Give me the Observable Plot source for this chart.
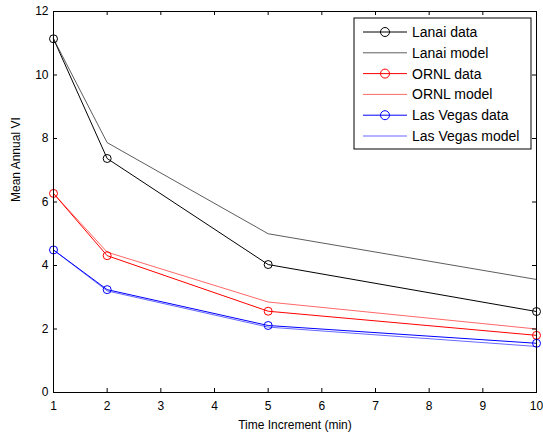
<!DOCTYPE html>
<html>
<head>
<meta charset="utf-8">
<script src="https://cdn.jsdelivr.net/npm/d3@7"></script>
<script src="https://cdn.jsdelivr.net/npm/@observablehq/plot@0.6"></script>
<style>
  html, body { margin: 0; padding: 0; background: #fff; }
  #chart { position: relative; width: 543px; height: 435px; }
  svg { font-family: "Liberation Sans", Arial, sans-serif; }
</style>
</head>
<body>
<div id="chart"></div>
<script>
const timeIncrements = [1, 2, 5, 10];
const lanaiData   = [11.14, 7.37, 4.03, 2.55];
const lanaiModel  = [11.14, 7.87, 5.00, 3.56];
const ornlData    = [6.27, 4.31, 2.56, 1.80];
const ornlModel   = [6.27, 4.42, 2.85, 2.00];
const vegasData   = [4.49, 3.24, 2.11, 1.55];
const vegasModel  = [4.49, 3.20, 2.06, 1.45];
const xTicks = [1, 2, 3, 4, 5, 6, 7, 8, 9, 10];
const yTicks = [0, 2, 4, 6, 8, 10, 12];

const seriesDefs = [
  {name: "Lanai data", values: lanaiData, color: "#000000", width: 1, marker: true},
  {name: "Lanai model", values: lanaiModel, color: "#333333", width: 0.8, marker: false},
  {name: "ORNL data", values: ornlData, color: "#ff0000", width: 1, marker: true},
  {name: "ORNL model", values: ornlModel, color: "#ff0000", width: 0.6, marker: false},
  {name: "Las Vegas data", values: vegasData, color: "#0000ff", width: 1, marker: true},
  {name: "Las Vegas model", values: vegasModel, color: "#0000ff", width: 0.6, marker: false}
];

const rows = [];
seriesDefs.forEach(s => s.values.forEach((v, i) => rows.push({series: s.name, x: timeIncrements[i], y: v})));

const marks = [];
for (const s of seriesDefs) {
  const d = rows.filter(r => r.series === s.name);
  marks.push(Plot.line(d, {x: "x", y: "y", stroke: s.color, strokeWidth: s.width}));
}
for (const s of seriesDefs) {
  if (!s.marker) continue;
  const d = rows.filter(r => r.series === s.name);
  marks.push(Plot.dot(d, {x: "x", y: "y", r: 4, stroke: s.color, fill: "none", strokeWidth: 1}));
}

const W = 543, H = 435, mL = 53, mR = 7, mT = 11, mB = 43;
const pw = W - mL - mR, ph = H - mT - mB;
const tick = 4;
const plot = Plot.plot({
  width: W,
  height: H,
  marginLeft: mL,
  marginRight: mR,
  marginTop: mT,
  marginBottom: mB,
  style: {fontFamily: "'Liberation Sans', Arial, sans-serif", fontSize: "12px", background: "#fff", overflow: "visible"},
  x: {domain: [1, 10]},
  y: {domain: [0, 12]},
  marks: [
    ...marks,
    Plot.frame({stroke: "#000", strokeWidth: 1}),
    // inward ticks
    Plot.ruleX(xTicks, {x: d => d, insetTop: ph - tick, stroke: "#000"}),
    Plot.ruleX(xTicks, {x: d => d, insetBottom: ph - tick, stroke: "#000"}),
    Plot.ruleY(yTicks, {y: d => d, insetRight: pw - tick, stroke: "#000"}),
    Plot.ruleY(yTicks, {y: d => d, insetLeft: pw - tick, stroke: "#000"}),
    // labels
    Plot.axisX(xTicks, {anchor: "bottom", tickSize: 0, tickPadding: 9, label: null, fill: "#000", fontSize: 12}),
    Plot.axisY(yTicks, {anchor: "left", tickSize: 0, tickPadding: 5, label: null, fill: "#000", fontSize: 12}),
    Plot.text(["Time Increment (min)"], {frameAnchor: "bottom", dy: 33, fontSize: 12, fill: "#000", lineAnchor: "middle"}),
    Plot.text(["Mean Annual VI"], {frameAnchor: "left", dx: -37, rotate: -90, fontSize: 12, fill: "#000", lineAnchor: "middle"})
  ]
});

document.getElementById("chart").appendChild(plot);

// legend inside the axes
const svg = d3.select(plot);
const lg = svg.append("g").attr("transform", "translate(354,18)").attr("text-anchor", "start");
lg.append("rect").attr("width", 177).attr("height", 131).attr("fill", "#fff").attr("stroke", "#000").attr("stroke-width", 1);
seriesDefs.forEach((s, i) => {
  const y = 14 + i * 20.8;
  lg.append("line").attr("x1", 9).attr("x2", 53).attr("y1", y).attr("y2", y)
    .attr("stroke", s.color).attr("stroke-width", s.width);
  if (s.marker) lg.append("circle").attr("cx", 31).attr("cy", y).attr("r", 4.5)
    .attr("fill", "none").attr("stroke", s.color);
  lg.append("text").attr("x", 58).attr("y", y).attr("dy", "0.36em")
    .attr("text-anchor", "start")
    .attr("font-size", 14).attr("fill", "#000").text(s.name);
});
</script>
</body>
</html>
